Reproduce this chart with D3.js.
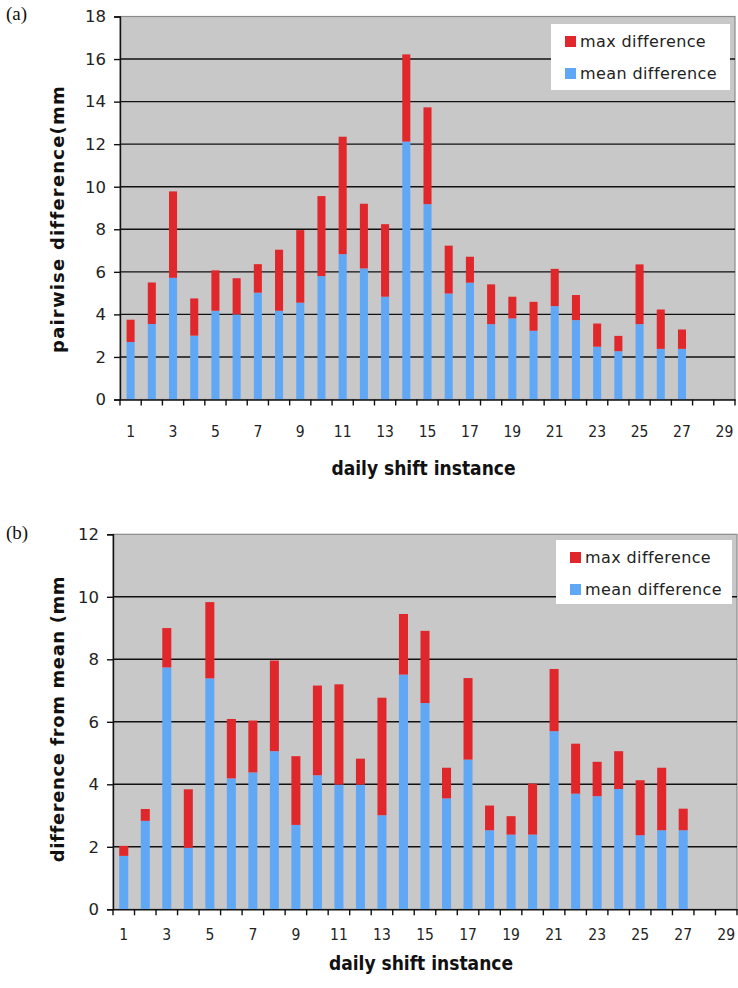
<!DOCTYPE html>
<html><head><meta charset="utf-8">
<script src="https://cdn.jsdelivr.net/npm/d3@7"></script>
<style>body{margin:0;background:#fff}svg{display:block}</style>
</head><body>
<svg id="c" width="738" height="988"></svg>
<script>
const categories = [1,2,3,4,5,6,7,8,9,10,11,12,13,14,15,16,17,18,19,20,21,22,23,24,25,26,27,28,29];
const xTickLabels = [1,3,5,7,9,11,13,15,17,19,21,23,25,27,29];
const seriesNames = ["max difference","mean difference"];
// panel (a)
const meanA = [2.7,3.55,5.72,3.0,4.17,4.0,5.02,4.17,4.55,5.8,6.83,6.16,4.83,12.12,9.18,4.98,5.49,3.54,3.81,3.23,4.39,3.73,2.48,2.27,3.54,2.38,2.38];
const maxA  = [3.75,5.5,9.78,4.75,6.07,5.7,6.36,7.04,7.96,9.56,12.35,9.2,8.24,16.22,13.73,7.23,6.71,5.41,4.83,4.59,6.14,4.91,3.57,2.99,6.35,4.23,3.29];
const yTicksA = [0,2,4,6,8,10,12,14,16,18];
// panel (b)
const meanB = [1.71,2.83,7.74,1.97,7.39,4.19,4.38,5.06,2.7,4.29,3.99,3.99,3.01,7.51,6.6,3.55,4.79,2.53,2.39,2.39,5.7,3.7,3.62,3.85,2.37,2.53,2.53];
const maxB  = [2.03,3.21,9.0,3.84,9.83,6.09,6.04,7.96,4.9,7.16,7.2,4.82,6.77,9.45,8.91,4.53,7.4,3.32,2.98,4.02,7.69,5.3,4.72,5.06,4.13,4.53,3.22];
const yTicksB = [0,2,4,6,8,10,12];

const RED = "#e0282c", BLUE = "#60a8f6", BG = "#c8c8c8";
const svg = d3.select("#c");

function panel(o){
  const g = svg.append("g");
  const x = d3.scaleBand().domain(categories).range([o.left,o.right]).padding(0);
  const y = d3.scaleLinear().domain([0,o.ymax]).range([o.bottom,o.top]);
  g.append("rect").attr("x",o.left).attr("y",o.top).attr("width",o.right-o.left).attr("height",o.bottom-o.top)
    .attr("fill",BG).attr("stroke","#8a8a8a").attr("stroke-width",1.2);
  g.selectAll(".grid").data(o.yTicks.filter(t=>t>0 && t<o.ymax)).join("line")
    .attr("x1",o.left).attr("x2",o.right).attr("y1",d=>y(d)).attr("y2",d=>y(d))
    .attr("stroke","#111").attr("stroke-width",1.4);
  const bw = x.bandwidth()*o.barFrac;
  const data = o.mean.map((m,i)=>({c:categories[i],mean:m,max:o.max[i]}));
  g.selectAll(".bm").data(data).join("rect")
    .attr("x",d=>x(d.c)+x.bandwidth()/2-bw/2).attr("width",bw)
    .attr("y",d=>y(d.mean)).attr("height",d=>y(0)-y(d.mean)).attr("fill",BLUE);
  g.selectAll(".bx").data(data).join("rect")
    .attr("x",d=>x(d.c)+x.bandwidth()/2-bw/2).attr("width",bw)
    .attr("y",d=>y(d.max)).attr("height",d=>y(d.mean)-y(d.max)).attr("fill",RED);
  const ya = d3.axisLeft(y).tickValues(o.yTicks).tickSize(6).tickPadding(8);
  const yg = g.append("g").attr("transform",`translate(${o.left},0)`).call(ya);
  yg.select(".domain").attr("stroke","#111").attr("stroke-width",1.4);
  yg.selectAll(".tick line").attr("stroke","#111").attr("stroke-width",1.4);
  yg.selectAll("text").attr("font-family","'DejaVu Sans',Verdana,sans-serif").attr("font-size",16.5).attr("fill","#222");
  const xa = d3.axisBottom(x).tickSize(0).tickFormat(d=>xTickLabels.includes(d)?d:"").tickPadding(o.xLabelPad);
  const xg = g.append("g").attr("transform",`translate(0,${o.bottom})`).call(xa);
  xg.select(".domain").attr("stroke","#111").attr("stroke-width",1.4);
  xg.selectAll("text").attr("font-family","'DejaVu Sans Condensed','DejaVu Sans',sans-serif").attr("font-size",15.5).attr("fill","#222");
  const bounds = categories.map(c=>x(c)).concat([o.right]);
  g.selectAll(".xt").data(bounds).join("line")
    .attr("x1",d=>d).attr("x2",d=>d).attr("y1",o.bottom).attr("y2",o.bottom+6)
    .attr("stroke","#111").attr("stroke-width",1.4);
  g.append("text").attr("x",(o.left+o.right)/2-4).attr("y",o.bottom+o.xTitleOff)
    .attr("text-anchor","middle").attr("font-family","'DejaVu Sans Condensed','DejaVu Sans',sans-serif")
    .attr("font-weight","bold").attr("font-size",19).attr("fill","#111").text("daily shift instance");
  g.append("text").attr("transform",`translate(${o.yTitleX},${o.yTitleY}) rotate(-90)`)
    .attr("text-anchor","middle").attr("font-family","'DejaVu Sans',Verdana,sans-serif")
    .attr("font-weight","bold").attr("font-size",18).attr("letter-spacing",o.yTitleLS).attr("fill","#111").text(o.yTitle);
  g.append("text").attr("x",6).attr("y",o.tagY).attr("font-family","'Liberation Serif','Times New Roman',serif")
    .attr("font-size",19).attr("fill","#111").text(o.tag);
  const L = o.legend;
  g.append("rect").attr("x",L.x).attr("y",L.y).attr("width",L.w).attr("height",L.h).attr("fill","#fff");
  const cols = [RED,BLUE];
  seriesNames.forEach((s,i)=>{
    const yy = L.y + L.first + i*L.gap;
    g.append("rect").attr("x",L.x+14).attr("y",yy-11).attr("width",11).attr("height",11).attr("fill",cols[i]);
    g.append("text").attr("x",L.x+29).attr("y",yy).attr("font-family","'DejaVu Sans',Verdana,sans-serif")
      .attr("font-size",16).attr("letter-spacing",0.4).attr("fill","#222").text(s);
  });
}

panel({left:120,right:735,top:16.5,bottom:399.5,ymax:18,yTicks:yTicksA,mean:meanA,max:maxA,barFrac:0.38,
  xLabelPad:26,xTitleOff:75,yTitle:"pairwise difference(mm",yTitleLS:1.2,yTitleX:64,yTitleY:219,tag:"(a)",tagY:20,
  legend:{x:551,y:24,w:179,h:66,first:23,gap:32}});
panel({left:113,right:737,top:534.3,bottom:909.3,ymax:12,yTicks:yTicksB,mean:meanB,max:maxB,barFrac:0.42,
  xLabelPad:20,xTitleOff:61,yTitle:"difference from mean (mm",yTitleLS:0.6,yTitleX:64,yTitleY:719,tag:"(b)",tagY:539,
  legend:{x:556,y:540,w:176,h:64,first:23,gap:32}});
</script>
</body></html>
